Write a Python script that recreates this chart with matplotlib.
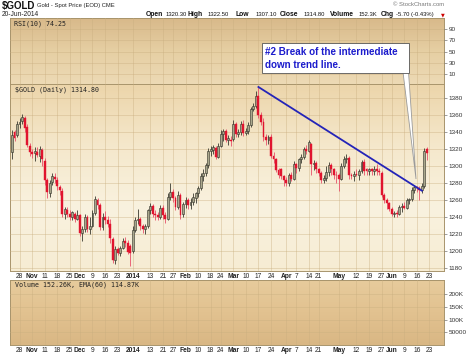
import numpy as np
import pandas as pd
import matplotlib
matplotlib.use('Agg')
import matplotlib.pyplot as plt
from matplotlib.colors import LinearSegmentedColormap
from matplotlib.patches import Polygon

W, H = 474, 356

# trading days (spot gold, EOD), US market holidays skipped
holidays = ['2013-11-28', '2013-12-25', '2014-01-01', '2014-01-20',
            '2014-02-17', '2014-04-18', '2014-05-26']
all_days = pd.bdate_range('2013-10-23', '2014-07-03')
all_days = all_days[~all_days.isin(pd.to_datetime(holidays))]
dates = all_days[all_days <= '2014-06-20']

opens = [1316, 1340, 1336, 1349, 1353, 1357, 1346, 1324, 1316, 1315, 1317, 1312, 1319, 1306, 1283, 1268,
         1281, 1287, 1284, 1275, 1271, 1243, 1248, 1243, 1240, 1244, 1238, 1242, 1221, 1226, 1240, 1226,
         1230, 1245, 1260, 1254, 1228, 1240, 1236, 1232, 1214, 1190, 1202, 1198, 1204, 1212, 1210, 1206,
         1200, 1225, 1236, 1238, 1229, 1226, 1229, 1248, 1253, 1244, 1242, 1240, 1251, 1242, 1238, 1264,
         1270, 1262, 1252, 1266, 1243, 1255, 1260, 1254, 1258, 1262, 1268, 1274, 1288, 1292, 1301, 1318,
         1319, 1321, 1311, 1324, 1338, 1341, 1331, 1331, 1332, 1350, 1338, 1340, 1350, 1339, 1341, 1348,
         1367, 1371, 1382, 1360, 1352, 1334, 1331, 1334, 1312, 1308, 1295, 1296, 1288, 1284, 1280, 1290,
         1285, 1302, 1298, 1308, 1311, 1320, 1318, 1326, 1302, 1303, 1296, 1292, 1284, 1286, 1293, 1301,
         1296, 1290, 1289, 1285, 1300, 1308, 1310, 1289, 1288, 1291, 1290, 1294, 1305, 1297, 1294, 1296,
         1294, 1296, 1294, 1292, 1266, 1260, 1256, 1250, 1244, 1245, 1244, 1252, 1253, 1251, 1260, 1261,
         1272, 1275, 1274, 1272, 1277, 1320.3]
highs = [1342, 1342, 1353, 1356, 1361, 1359, 1350, 1327, 1320, 1322, 1322, 1323, 1321, 1310, 1286, 1283,
         1292, 1292, 1287, 1278, 1274, 1252, 1252, 1248, 1247, 1246, 1248, 1244, 1230, 1243, 1242, 1240,
         1248, 1265, 1262, 1256, 1245, 1247, 1241, 1238, 1216, 1206, 1205, 1206, 1215, 1217, 1213, 1208,
         1230, 1240, 1249, 1240, 1232, 1232, 1250, 1256, 1255, 1248, 1246, 1254, 1254, 1246, 1268, 1280,
         1273, 1265, 1271, 1268, 1258, 1263, 1262, 1262, 1268, 1270, 1276, 1292, 1296, 1304, 1321, 1324,
         1325, 1323, 1327, 1342, 1344, 1343, 1337, 1335, 1354, 1352, 1344, 1353, 1354, 1345, 1352, 1370,
         1374, 1388, 1393, 1364, 1357, 1338, 1337, 1338, 1316, 1310, 1298, 1298, 1290, 1287, 1292, 1293,
         1306, 1304, 1310, 1314, 1322, 1325, 1331, 1327, 1307, 1306, 1298, 1294, 1290, 1300, 1305, 1304,
         1298, 1294, 1292, 1304, 1312, 1314, 1312, 1292, 1294, 1296, 1297, 1307, 1308, 1298, 1298, 1298,
         1300, 1302, 1298, 1294, 1268, 1262, 1258, 1252, 1247, 1248, 1254, 1256, 1258, 1262, 1262, 1275,
         1278, 1277, 1276, 1280, 1321, 1322.5]
lows = [1308, 1330, 1334, 1345, 1350, 1340, 1322, 1312, 1310, 1306, 1311, 1305, 1300, 1278, 1262, 1264,
        1278, 1280, 1272, 1266, 1240, 1238, 1240, 1236, 1237, 1234, 1236, 1218, 1212, 1222, 1222, 1220,
        1228, 1242, 1250, 1225, 1225, 1232, 1228, 1210, 1186, 1185, 1195, 1194, 1202, 1205, 1196, 1182,
        1198, 1222, 1232, 1225, 1221, 1220, 1227, 1244, 1240, 1237, 1236, 1238, 1238, 1233, 1236, 1260,
        1258, 1248, 1250, 1238, 1240, 1251, 1250, 1250, 1254, 1256, 1264, 1272, 1282, 1288, 1298, 1312,
        1314, 1308, 1309, 1322, 1330, 1328, 1325, 1324, 1330, 1334, 1334, 1336, 1335, 1336, 1338, 1346,
        1365, 1368, 1356, 1348, 1330, 1325, 1326, 1310, 1303, 1293, 1286, 1285, 1277, 1277, 1277, 1282,
        1283, 1292, 1294, 1304, 1308, 1314, 1316, 1290, 1295, 1292, 1288, 1280, 1280, 1282, 1288, 1290,
        1285, 1280, 1271, 1283, 1298, 1304, 1285, 1285, 1282, 1288, 1284, 1292, 1290, 1290, 1289, 1290,
        1290, 1290, 1289, 1263, 1257, 1250, 1247, 1241, 1240, 1240, 1242, 1246, 1249, 1250, 1255, 1259,
        1268, 1270, 1260, 1268, 1274, 1307.1]
closes = [1337, 1333, 1350, 1352, 1358, 1345, 1325, 1316, 1314, 1318, 1313, 1320, 1308, 1284, 1270, 1280,
          1288, 1285, 1276, 1272, 1244, 1249, 1243, 1240, 1246, 1238, 1242, 1221, 1226, 1240, 1226, 1230,
          1245, 1261, 1254, 1228, 1240, 1236, 1232, 1215, 1190, 1202, 1198, 1204, 1212, 1210, 1199, 1198,
          1225, 1237, 1238, 1230, 1226, 1229, 1248, 1253, 1244, 1242, 1240, 1251, 1242, 1238, 1264, 1270,
          1262, 1252, 1266, 1242, 1255, 1260, 1254, 1258, 1264, 1268, 1274, 1288, 1292, 1301, 1318, 1320,
          1322, 1311, 1324, 1338, 1341, 1331, 1333, 1330, 1350, 1338, 1340, 1350, 1339, 1341, 1348, 1367,
          1371, 1382, 1360, 1352, 1334, 1331, 1334, 1312, 1308, 1295, 1290, 1288, 1284, 1280, 1290, 1285,
          1302, 1298, 1308, 1311, 1320, 1318, 1328, 1302, 1303, 1296, 1292, 1284, 1286, 1293, 1301, 1296,
          1290, 1289, 1285, 1300, 1308, 1310, 1289, 1288, 1291, 1290, 1294, 1305, 1294, 1294, 1296, 1294,
          1296, 1294, 1293, 1266, 1260, 1256, 1250, 1244, 1245, 1244, 1252, 1253, 1251, 1260, 1261, 1272,
          1275, 1274, 1272, 1277, 1318, 1314.8]

# trend line drawn on the chart
trend_dates = ['2014-03-17', '2014-06-18']
trend_prices = [1393, 1271]

# x axis labels (weekly)
tick_dates = ['2013-10-28', '2013-11-04', '2013-11-11', '2013-11-18', '2013-11-25', '2013-12-02',
              '2013-12-09', '2013-12-16', '2013-12-23', '2014-01-02', '2014-01-13', '2014-01-21',
              '2014-01-27', '2014-02-03', '2014-02-10', '2014-02-18', '2014-02-24', '2014-03-03',
              '2014-03-10', '2014-03-17', '2014-03-24', '2014-04-01', '2014-04-07', '2014-04-14',
              '2014-04-21', '2014-05-01', '2014-05-12', '2014-05-19', '2014-05-27', '2014-06-02',
              '2014-06-09', '2014-06-16', '2014-06-23']
tick_labels = ['28', 'Nov', '11', '18', '25', 'Dec', '9', '16', '23', '2014', '13', '21', '27', 'Feb',
               '10', '18', '24', 'Mar', '10', '17', '24', 'Apr', '7', '14', '21', 'May', '12', '19',
               '27', 'Jun', '9', '16', '23']

price_ticks = [1180, 1200, 1220, 1240, 1260, 1280, 1300, 1320, 1340, 1360, 1380]
rsi_ticks = [10, 30, 50, 70, 90]
vol_ticks = [50000, 100000, 150000, 200000]
vol_tick_labels = ['50000', '100K', '150K', '200K']

day_index = {d: i for i, d in enumerate(all_days)}
tick_x = [day_index[pd.Timestamp(d)] for d in tick_dates]
trend_x = [day_index[pd.Timestamp(d)] for d in trend_dates]
x = np.arange(len(dates))

FONT = 'Liberation Sans'
fig = plt.figure(figsize=(W / 100, H / 100), dpi=100)
fig.patch.set_facecolor('white')


def panel(l, t, r, b):
    return fig.add_axes([l / W, 1 - b / H, (r - l) / W, (b - t) / H])


def shade(ax, colors):
    cmap = LinearSegmentedColormap.from_list('bg', colors)
    ax.imshow(np.linspace(0, 1, 256).reshape(-1, 1), cmap=cmap, extent=[0, 1, 0, 1],
              transform=ax.transAxes, aspect='auto', zorder=0, interpolation='bilinear')


def style(ax, yt, ylabels, ylim):
    ax.set_xlim(-0.8, 171.8)
    ax.set_ylim(*ylim)
    ax.yaxis.tick_right()
    ax.set_yticks(yt)
    ax.set_yticklabels(ylabels, fontsize=4.6, family=FONT, color='#333333')
    ax.tick_params(axis='y', length=2, width=0.5, pad=1.5, color='#777777')
    ax.set_xticks(tick_x)
    ax.tick_params(axis='x', length=0, pad=1.2)
    ax.grid(True, color='#c9ae7f', alpha=0.45, lw=0.6)
    ax.set_axisbelow(False)
    for s in ax.spines.values():
        s.set_color('#a8946c')
        s.set_linewidth(0.7)


def date_labels(ax):
    ax.set_xticklabels(tick_labels, fontsize=4.8, family=FONT, color='#222222')
    for lab in ax.get_xticklabels():
        if not lab.get_text().isdigit() or lab.get_text() == '2014':
            lab.set_fontweight('bold')


# RSI panel (empty)
ax_rsi = panel(10, 18, 444, 84)
shade(ax_rsi, ['#d8b98a', '#e6cfa3', '#eddab5'])
style(ax_rsi, rsi_ticks, [str(v) for v in rsi_ticks], (-8, 110))
ax_rsi.set_xticklabels([])
ax_rsi.text(0.01, 0.91, 'RSI(10) 74.25', transform=ax_rsi.transAxes, fontsize=4.8,
            family='DejaVu Sans Mono', color='#222222', va='center')

# price panel
ax = panel(10, 84, 444, 271)
shade(ax, ['#ecd5aa', '#f5e8cc', '#f9f2df', '#f6ecd3'])
style(ax, price_ticks, [str(v) for v in price_ticks], (1176.5, 1396.5))
date_labels(ax)

o = np.array(opens)
c = np.array(closes)
up = c >= o
body_lo = np.minimum(o, c)
body_h = np.maximum(np.abs(c - o), 0.8)
ax.vlines(x[up], np.array(lows)[up], np.array(highs)[up], color='#3a3a30', lw=0.6, zorder=3)
ax.vlines(x[~up], np.array(lows)[~up], np.array(highs)[~up], color='#e8506a', lw=0.6, zorder=3)
ax.bar(x[up], body_h[up], bottom=body_lo[up], width=0.75, color='#a9a78c',
       edgecolor='#2e2e26', lw=0.4, zorder=4)
ax.bar(x[~up], body_h[~up], bottom=body_lo[~up], width=0.75, color='#e0142e',
       edgecolor='#e0142e', lw=0.3, zorder=4)
ax.plot(trend_x, trend_prices, color='#2424b8', lw=1.3, zorder=5)
ax.text(0.012, 0.985, '$GOLD (Daily) 1314.80', transform=ax.transAxes, fontsize=4.8,
        family='DejaVu Sans Mono', color='#222222', va='top')

# volume panel (empty)
ax_v = panel(10, 280, 444, 345)
shade(ax_v, ['#e7cb9c', '#e2c290', '#d9b784'])
style(ax_v, vol_ticks, vol_tick_labels, (0, 255000))
date_labels(ax_v)
ax_v.text(0.012, 0.93, 'Volume 152.26K, EMA(60) 114.87K', transform=ax_v.transAxes,
          fontsize=4.8, family='DejaVu Sans Mono', color='#222222', va='center')


def ftext(px, py, s, **kw):
    kw.setdefault('family', FONT)
    kw.setdefault('va', 'center')
    fig.text(px / W, 1 - py / H, s, **kw)


# header
ftext(2, 6, '$GOLD', fontsize=7, fontweight='bold', color='#111111')
ftext(37, 6, 'Gold - Spot Price (EOD) CME', fontsize=4.2, color='#222222')
ftext(444, 5, '\u00a9 StockCharts.com', fontsize=4.2, color='#777777', ha='right')
ftext(2, 14.5, '20-Jun-2014', fontsize=4.8, color='#222222')
head = [(146, 'Open', True), (166, '1320.30', False), (187, 'High', True), (207.5, '1322.50', False),
        (236, 'Low', True), (256, '1307.10', False), (280, 'Close', True), (303.5, '1314.80', False),
        (330, 'Volume', True), (359, '152.3K', False), (381, 'Chg', True), (396.5, '-5.70 (-0.43%)', False)]
for px, s, b in head:
    ftext(px, 14.5, s, fontsize=4.9 if b else 4.2, fontweight='bold' if b else 'normal',
          color='#111111')
ftext(441, 14.5, '\u25bc', fontsize=3.5, color='#cc0000', family='DejaVu Sans')

# callout
pointer = Polygon([(403 / W, 1 - 72 / H), (408.5 / W, 1 - 72 / H), (416 / W, 1 - 179 / H)],
                  closed=True, transform=fig.transFigure, facecolor='white',
                  edgecolor='#9a9a9a', lw=0.6, zorder=10)
fig.patches.append(pointer)
box = plt.Rectangle((262 / W, 1 - 73 / H), 147 / W, 30 / H, transform=fig.transFigure,
                    facecolor='white', edgecolor='#555555', lw=0.6, zorder=11)
fig.patches.append(box)
ftext(265, 52, '#2 Break of the intermediate', fontsize=7.1, fontweight='bold',
      color='#1c1ccc', zorder=12)
ftext(265, 64.5, 'down trend line.', fontsize=7.1, fontweight='bold', color='#1c1ccc', zorder=12)

fig.savefig('out.png', dpi=100)
